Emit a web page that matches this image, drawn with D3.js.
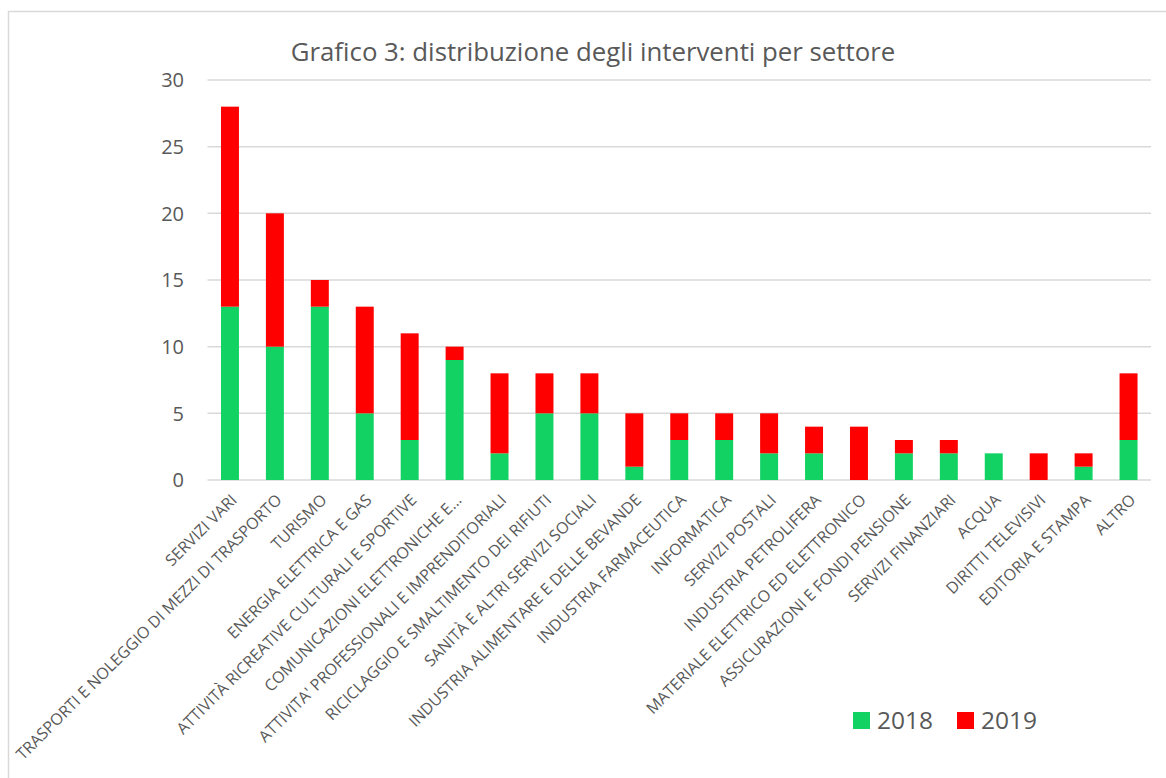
<!DOCTYPE html>
<html>
<head>
<meta charset="utf-8">
<script src="https://cdn.jsdelivr.net/npm/d3@7"></script>
<style>
  body { margin: 0; background: #fff; }
  svg { display: block; font-family: "Open Sans", sans-serif; }
</style>
</head>
<body>
<svg width="1166" height="778"></svg>
<script>
const sectors = [
  'SERVIZI VARI',
  'TRASPORTI E NOLEGGIO DI MEZZI DI TRASPORTO',
  'TURISMO',
  'ENERGIA ELETTRICA E GAS',
  'ATTIVITÀ RICREATIVE CULTURALI E SPORTIVE',
  'COMUNICAZIONI ELETTRONICHE E...',
  "ATTIVITA' PROFESSIONALI E IMPRENDITORIALI",
  'RICICLAGGIO E SMALTIMENTO DEI RIFIUTI',
  'SANITÀ E ALTRI SERVIZI SOCIALI',
  'INDUSTRIA ALIMENTARE E DELLE BEVANDE',
  'INDUSTRIA FARMACEUTICA',
  'INFORMATICA',
  'SERVIZI POSTALI',
  'INDUSTRIA PETROLIFERA',
  'MATERIALE ELETTRICO ED ELETTRONICO',
  'ASSICURAZIONI E FONDI PENSIONE',
  'SERVIZI FINANZIARI',
  'ACQUA',
  'DIRITTI TELEVISIVI',
  'EDITORIA E STAMPA',
  'ALTRO'
]
const values2018 = [13, 10, 13, 5, 3, 9, 2, 5, 5, 1, 3, 3, 2, 2, 0, 2, 2, 2, 0, 1, 3]
const values2019 = [15, 10, 2, 8, 8, 1, 6, 3, 3, 4, 2, 2, 3, 2, 4, 1, 1, 0, 2, 1, 5]
const years = ['2018', '2019']
const yTicks = [0, 5, 10, 15, 20, 25, 30]
const title = 'Grafico 3: distribuzione degli interventi per settore'

const colors = { '2018': '#12d264', '2019': '#ff0000' }
const textColor = '#595959'
const gridColor = '#d9d9d9'

const svg = d3.select('svg')

// chart frame
svg.append('rect')
    .attr('x', 8.5).attr('y', 11.5)
    .attr('width', 1170).attr('height', 790)
    .attr('fill', 'none')
    .attr('stroke', gridColor)
    .attr('stroke-width', 1.5)

const x = d3.scaleBand()
    .domain(sectors)
    .range([207.5, 1151])
    .paddingInner(0.6)
    .paddingOuter(0.3)

const y = d3.scaleLinear()
    .domain([0, 30])
    .range([480, 80])

// gridlines
svg.append('g')
  .selectAll('line')
  .data(yTicks)
  .enter().append('line')
    .attr('x1', 207.5).attr('x2', 1151)
    .attr('y1', d => y(d)).attr('y2', d => y(d))
    .attr('stroke', gridColor)
    .attr('stroke-width', 1.5)

// y labels
svg.append('g')
  .selectAll('text')
  .data(yTicks)
  .enter().append('text')
    .attr('x', 184)
    .attr('y', d => y(d))
    .attr('dy', '0.36em')
    .attr('text-anchor', 'end')
    .attr('font-size', 20)
    .attr('fill', textColor)
    .text(d => d)

// stacked bars
const rows = sectors.map((s, i) => ({ sector: s, '2018': values2018[i], '2019': values2019[i] }))
const stack = d3.stack().keys(years)(rows)

svg.append('g')
  .selectAll('g')
  .data(stack)
  .enter().append('g')
    .attr('fill', d => colors[d.key])
  .selectAll('rect')
  .data(d => d)
  .enter().append('rect')
    .attr('x', d => x(d.data.sector))
    .attr('width', x.bandwidth())
    .attr('y', d => y(d[1]))
    .attr('height', d => y(d[0]) - y(d[1]))

// x labels
svg.append('g')
  .selectAll('text')
  .data(sectors)
  .enter().append('text')
    .attr('transform', d => `translate(${x(d) + x.bandwidth() / 2 + 4},${497}) rotate(-45)`)
    .attr('text-anchor', 'end')
    .attr('dy', '0.35em')
    .attr('font-size', 16)
    .attr('fill', textColor)
    .text(d => d)

// title
svg.append('text')
    .attr('x', 593)
    .attr('y', 61)
    .attr('text-anchor', 'middle')
    .attr('font-size', 25.8)
    .attr('fill', textColor)
    .text(title)

// legend
const legendX = [853, 957]
const legend = svg.append('g')
  .selectAll('g')
  .data(years)
  .enter().append('g')
    .attr('transform', (d, i) => `translate(${legendX[i]},712)`)

legend.append('rect')
    .attr('width', 17).attr('height', 17)
    .attr('fill', d => colors[d])

legend.append('text')
    .attr('x', 24)
    .attr('y', 17)
    .attr('font-size', 24.5)
    .attr('fill', textColor)
    .text(d => d)
</script>
</body>
</html>
